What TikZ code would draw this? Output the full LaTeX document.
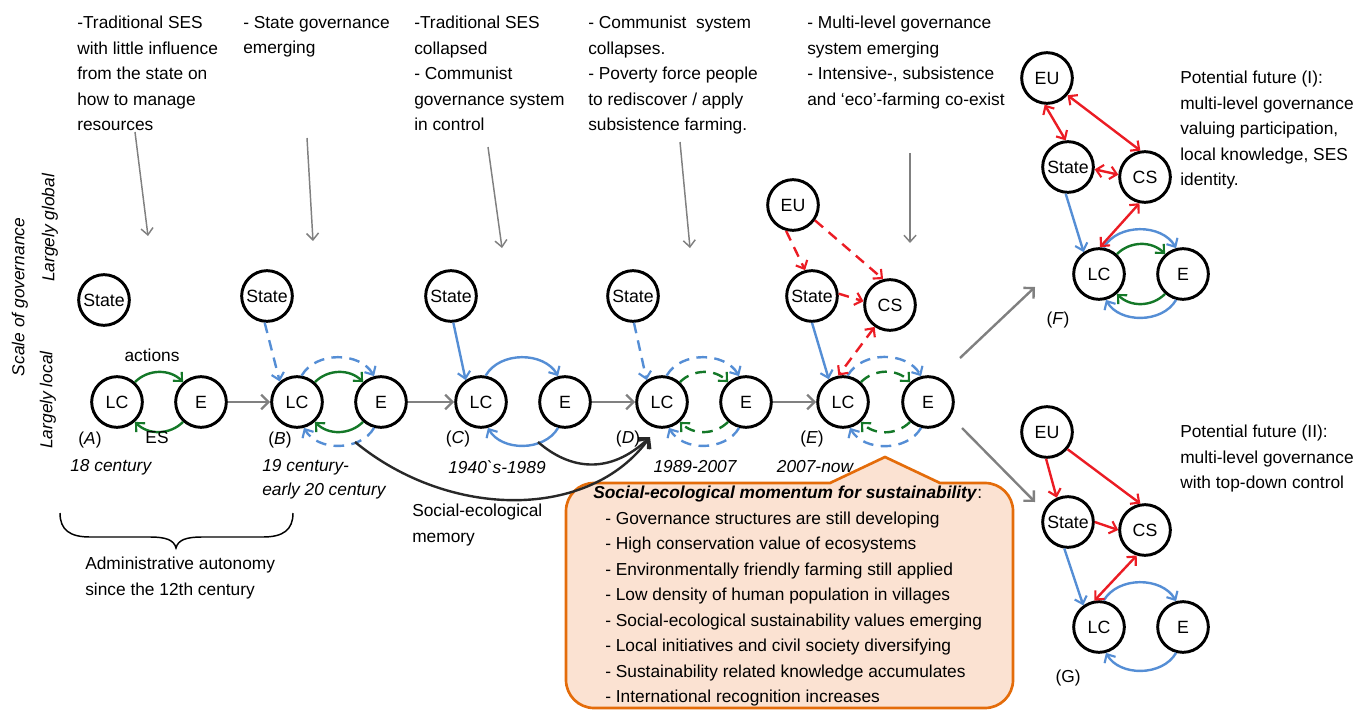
\documentclass[tikz,border=0pt]{standalone}
\usepackage{fontspec}
\setmainfont{Liberation Sans}
\usetikzlibrary{arrows.meta}
\definecolor{bluC}{RGB}{85,142,213}
\definecolor{grnC}{RGB}{20,120,40}
\definecolor{redC}{RGB}{235,28,36}
\definecolor{grayC}{RGB}{128,128,128}
\definecolor{orgC}{RGB}{228,108,10}
\definecolor{peachC}{RGB}{251,226,210}
\definecolor{darkC}{RGB}{40,40,40}
\newcommand{\innerarcs}[2]{%
  \draw[grnarr,#1] (lc#2.48) to[bend left=45] (e#2.132);
  \draw[grnarr,#1] (e#2.228) to[bend left=45] (lc#2.312);}
\newcommand{\outerarcs}[2]{%
  \draw[bluarr,#1] (lc#2.80) to[out=60,in=120] (e#2.105);
  \draw[bluarr,#1] (e#2.255) to[out=-120,in=-60] (lc#2.285);}
\begin{document}
\begin{tikzpicture}[x=0.75pt,y=0.75pt,
  circ/.style={circle,draw=black,line width=2.2pt,minimum size=38pt,inner sep=0pt,font=\fontsize{13.3}{15}\selectfont},
  txt/.style={font=\fontsize{13}{19.1}\selectfont,align=left,inner sep=0pt,anchor=north west},
  lab/.style={font=\fontsize{13}{15}\selectfont,inner sep=0pt},
  ilab/.style={font=\fontsize{13}{18}\selectfont\itshape,inner sep=0pt},
  tipS/.tip={Straight Barb[length=5pt,width=9.5pt,line width=1.6pt]},
  grnarr/.style={draw=grnC,line width=1.8pt,-tipS},
  bluarr/.style={draw=bluC,line width=1.8pt,-tipS},
  redarr/.style={draw=redC,line width=1.8pt,-tipS},
  redboth/.style={draw=redC,line width=1.8pt,tipS-tipS},
  dsh/.style={dash pattern=on 8pt off 5.5pt},
  stagearr/.style={draw=grayC,line width=1.8pt,-{Straight Barb[length=5.5pt,width=11pt]}},
  toparr/.style={draw=grayC,line width=1.1pt,-{Straight Barb[length=5pt,width=9pt]}},
  memarr/.style={draw=darkC,line width=1.8pt,-{Straight Barb[length=6pt,width=11pt]}}
]
\useasboundingbox (0,0) rectangle (1369,-713);

% orange callout box
\draw[draw=orgC,fill=peachC,line width=2pt]
  (594,-483) -- (830,-483) -- (885,-457) -- (940,-483) -- (985,-483)
  arc[start angle=90,end angle=0,radius=28] -- (1013,-680)
  arc[start angle=0,end angle=-90,radius=28] -- (594,-708)
  arc[start angle=270,end angle=180,radius=28] -- (566,-511)
  arc[start angle=180,end angle=90,radius=28] -- cycle;
\node[txt] (box) at (593,-486) {\textbf{\textit{Social-ecological momentum for sustainability}}:\\
\hspace*{9pt}- Governance structures are still developing\\
\hspace*{9pt}- High conservation value of ecosystems\\
\hspace*{9pt}- Environmentally friendly farming still applied\\
\hspace*{9pt}- Low density of human population in villages\\
\hspace*{9pt}- Social-ecological sustainability values emerging\\
\hspace*{9pt}- Local initiatives and civil society diversifying\\
\hspace*{9pt}- Sustainability related knowledge accumulates\\
\hspace*{9pt}- International recognition increases};

% vertical labels
\node[ilab,rotate=90] (scale) at (20,-297) {Scale of governance};
\node[ilab,rotate=90] (glob) at (50,-228) {Largely global};
\node[ilab,rotate=90] (loc) at (48,-400) {Largely local};

% top texts
\node[txt] (tA) at (77,-16) {-Traditional SES\\with little influence\\from the state on\\how to manage\\resources};
\node[txt] (tB) at (243,-16) {- State governance\\emerging};
\node[txt] (tC) at (414,-16) {-Traditional SES\\collapsed\\- Communist\\governance system\\in control};
\node[txt] (tD) at (588,-16) {- Communist\ \ system\\collapses.\\- Poverty force people\\to rediscover / apply\\subsistence farming.};
\node[txt] (tE) at (807,-16) {- Multi-level governance\\system emerging\\- Intensive-, subsistence\\and ‘eco’-farming co-exist};
\node[txt] (tF) at (1180,-71) {Potential future (I):\\multi-level governance\\valuing participation,\\local knowledge, SES\\identity.};
\node[txt] (tG) at (1180,-425) {Potential future (II):\\multi-level governance\\with top-down control};
\node[txt] (tM) at (412,-504) {Social-ecological\\memory};
\node[txt] (tAd) at (85,-557) {Administrative autonomy\\since the 12th century};

% top gray arrows
\coordinate (a1) at (135,-132); \coordinate (a2) at (148,-236);
\coordinate (b1) at (307,-138); \coordinate (b2) at (313,-241);
\coordinate (c1) at (488,-147); \coordinate (c2) at (502,-248);
\coordinate (d1) at (680,-142); \coordinate (d2) at (690,-248);
\coordinate (e1) at (910,-153); \coordinate (e2) at (910,-243);
\draw[toparr] (a1) -- (a2);
\draw[toparr] (b1) -- (b2);
\draw[toparr] (c1) -- (c2);
\draw[toparr] (d1) -- (d2);
\draw[toparr] (e1) -- (e2);

% circles
\node[circ] (stA) at (104,-300) {State};
\node[circ] (lcA) at (117,-402) {LC};
\node[circ] (eA) at (201,-402) {E};
\node[circ] (stB) at (267,-296) {State};
\node[circ] (lcB) at (297,-402) {LC};
\node[circ] (eB) at (381,-402) {E};
\node[circ] (stC) at (451,-296) {State};
\node[circ] (lcC) at (481,-402) {LC};
\node[circ] (eC) at (565,-402) {E};
\node[circ] (stD) at (633,-296) {State};
\node[circ] (lcD) at (662,-402) {LC};
\node[circ] (eD) at (746,-402) {E};
\node[circ] (euE) at (793,-205) {EU};
\node[circ] (stE) at (812,-296) {State};
\node[circ] (csE) at (890,-305) {CS};
\node[circ] (lcE) at (843,-402) {LC};
\node[circ] (eE) at (928,-402) {E};
\node[circ] (euF) at (1047,-78) {EU};
\node[circ] (stF) at (1068,-167) {State};
\node[circ] (csF) at (1145,-177) {CS};
\node[circ] (lcF) at (1099,-274) {LC};
\node[circ] (eF) at (1183,-274) {E};
\node[circ] (euG) at (1047,-432) {EU};
\node[circ] (stG) at (1068,-522) {State};
\node[circ] (csG) at (1145,-530) {CS};
\node[circ] (lcG) at (1099,-627) {LC};
\node[circ] (eG) at (1183,-627) {E};

% stage arrows
\draw[stagearr] (eA) -- (lcB);
\draw[stagearr] (eB) -- (lcC);
\draw[stagearr] (eC) -- (lcD);
\draw[stagearr] (eD) -- (lcE);
\coordinate (f1) at (960,-358); \coordinate (f2) at (1035,-287);
\coordinate (g1) at (962,-428); \coordinate (g2) at (1035,-502);
\draw[stagearr] (f1) -- (f2);
\draw[stagearr] (g1) -- (g2);

% A
\innerarcs{}{A}
\node[lab] (act) at (152,-355) {actions};
\node[lab] (es) at (157,-438) {ES};
% B
\innerarcs{}{B}
\outerarcs{dsh}{B}
\draw[bluarr,dsh] (stB.265) -- (lcB.130);
% C
\outerarcs{}{C}
\draw[bluarr] (stC.275) -- (lcC.125);
% D
\innerarcs{dsh}{D}
\outerarcs{dsh}{D}
\draw[bluarr,dsh] (stD.272) -- (lcD.125);
% E
\innerarcs{dsh}{E}
\outerarcs{dsh}{E}
\draw[bluarr] (stE.270) -- (lcE.122);
\draw[redarr,dsh] (euE.255) -- (stE.105);
\draw[redarr,dsh] (euE.-35) -- (csE.105);
\draw[redarr,dsh] (stE.5) -- (csE.172);
\draw[redboth,dsh] (csE.235) -- (lcE.100);
% F
\innerarcs{}{F}
\outerarcs{}{F}
\draw[bluarr] (stF.265) -- (lcF.125);
\draw[redboth] (euF.265) -- (stF.95);
\draw[redboth] (euF.-40) -- (csF.100);
\draw[redboth] (stF.-5) -- (csF.175);
\draw[redboth] (csF.258) -- (lcF.88);
% G
\outerarcs{}{G}
\draw[bluarr] (stG.262) -- (lcG.126);
\draw[redarr] (euG.268) -- (stG.115);
\draw[redarr] (euG.-40) -- (csG.100);
\draw[redarr] (stG.0) -- (csG.180);
\draw[redboth] (csG.252) -- (lcG.100);

% memory arrows
\coordinate (m1) at (355,-442);
\coordinate (m2) at (538,-442);
\coordinate (m3) at (650,-437);
\draw[memarr] (m1) .. controls (450,-520) and (590,-520) .. (m3);
\draw[memarr] (m2) .. controls (570,-470) and (610,-475) .. (m3);

% stage labels
\node[lab] (LA) at (90,-440) {(\textit{A})};
\node[lab] (LB) at (280,-440) {(\textit{B})};
\node[lab] (LCl) at (458,-439) {(\textit{C})};
\node[lab] (LD) at (628,-439) {(\textit{D})};
\node[lab] (LE) at (812,-439) {(\textit{E})};
\node[lab] (LF) at (1058,-320) {(\textit{F})};
\node[lab] (LG) at (1068,-678) {(G)};
\node[ilab,anchor=west] (cA) at (70,-467) {18 century};
\node[ilab,anchor=north west,align=left] (cB) at (262,-459) {19 century-\\early 20 century};
\node[ilab] (cC) at (497,-467) {1940\textasciigrave s-1989};
\node[ilab] (cD) at (695,-467) {1989-2007};
\node[ilab] (cE) at (815,-467) {2007-now};

% brace
\draw[line width=1.1pt] (60,-513) .. controls (60,-530) and (70,-537) .. (90,-537) -- (150,-537)
  .. controls (166,-537) and (174,-540) .. (176,-548)
  .. controls (178,-540) and (186,-537) .. (202,-537) -- (263,-537)
  .. controls (283,-537) and (293,-530) .. (293,-513);
\end{tikzpicture}
\end{document}
